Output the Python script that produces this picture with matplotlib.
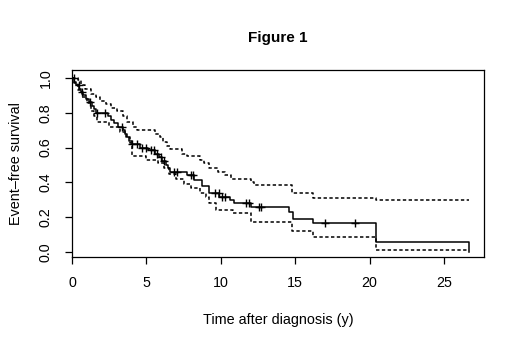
import numpy as np
import matplotlib
matplotlib.use("Agg")
import matplotlib.pyplot as plt

plt.rcParams['font.family'] = ['Liberation Sans', 'DejaVu Sans']

# Kaplan-Meier estimate: event times and survival just after each event
event_t = [0.15, 0.3, 0.5, 0.62, 0.75, 0.95, 1.15, 1.35, 1.5, 1.62,
           2.4, 2.6, 2.85, 3.1, 3.4, 3.55, 3.7, 3.85, 4.0, 4.6,
           5.1, 5.6, 5.85, 6.05, 6.3, 6.45, 6.6, 7.7, 8.2, 8.75,
           9.2, 9.9, 10.6, 10.9, 12.0, 14.56, 14.86, 16.2, 20.4, 26.7]
event_s = [0.98, 0.96, 0.94, 0.92, 0.90, 0.88, 0.86, 0.84, 0.82, 0.80,
           0.78, 0.76, 0.74, 0.72, 0.70, 0.68, 0.66, 0.64, 0.62, 0.60,
           0.585, 0.565, 0.545, 0.525, 0.50, 0.48, 0.46, 0.44, 0.414, 0.376,
           0.337, 0.318, 0.299, 0.28, 0.26, 0.23, 0.19, 0.163, 0.057, 0.0]

# censored observations (times)
cens_t = [0.11, 0.45, 0.67, 1.23, 1.68, 2.24, 3.36, 4.05, 4.39, 4.72,
          4.95, 5.28, 5.5, 5.73, 5.95, 6.17, 6.85, 7.07, 7.97, 8.15,
          9.64, 9.86, 10.1, 10.3, 11.7, 11.9, 12.55, 12.7, 17.0, 19.0]

# 95% confidence band
upper_t = [0.4, 0.6, 0.9, 1.3, 1.6, 1.9, 2.3, 2.6, 3.0, 3.4, 3.7, 4.1, 4.4,
           5.6, 5.9, 6.1, 6.4, 6.6, 7.4, 7.7, 8.6, 8.9, 9.2, 9.8, 10.3, 10.7,
           12.0, 12.2, 14.8, 16.2, 20.4]
upper_s = [0.99, 0.96, 0.94, 0.91, 0.89, 0.87, 0.85, 0.83, 0.81, 0.78, 0.75,
           0.72, 0.70, 0.68, 0.66, 0.63, 0.61, 0.59, 0.565, 0.55, 0.53, 0.51,
           0.48, 0.46, 0.44, 0.42, 0.40, 0.385, 0.337, 0.31, 0.30]
lower_t = [0.1, 0.4, 0.7, 1.0, 1.3, 1.5, 1.7, 2.5, 3.2, 3.6, 3.9, 4.0, 5.0,
           5.8, 6.2, 6.5, 7.0, 7.5, 8.0, 8.6, 9.0, 9.2, 9.7, 10.8, 12.0,
           14.8, 16.2, 20.4]
lower_s = [0.97, 0.93, 0.89, 0.855, 0.81, 0.78, 0.75, 0.72, 0.69, 0.66, 0.625,
           0.55, 0.53, 0.51, 0.48, 0.45, 0.42, 0.39, 0.37, 0.34, 0.318, 0.28,
           0.24, 0.225, 0.174, 0.12, 0.085, 0.013]
t_end = 26.7


def steps(t, s, end):
    x = np.concatenate([[0], t, [end]])
    y = np.concatenate([[1.0], s, [s[-1]]])
    return x, y


fig = plt.figure(figsize=(5.2, 3.47), dpi=100)
ax = fig.add_axes([0.1385, 0.2594, 0.7925, 0.5386])

x, y = steps(event_t, event_s, t_end)
ax.step(x, y, where='post', color='black', lw=1.1)

dash = (0, (2.2, 1.6))
x, y = steps(upper_t, upper_s, t_end)
ax.step(x, y, where='post', color='black', lw=1.1, linestyle=dash)
x, y = steps(lower_t, lower_s, t_end)
ax.step(x, y, where='post', color='black', lw=1.1, linestyle=dash)

# survival at censor times from the step function
idx = np.searchsorted(event_t, cens_t, side='right') - 1
cens_s = np.where(idx >= 0, np.array(event_s)[np.clip(idx, 0, None)], 1.0)
ax.plot(cens_t, cens_s, '+', color='black', ms=6, mew=1.0)

ax.set_xlim(0, 27.7)
ax.set_ylim(-0.03, 1.046)
ax.set_xticks([0, 5, 10, 15, 20, 25])
ax.set_yticks([0.0, 0.2, 0.4, 0.6, 0.8, 1.0])
ax.set_yticklabels(['0.0', '0.2', '0.4', '0.6', '0.8', '1.0'],
                   rotation=90, va='center')
ax.tick_params(direction='out', length=5, width=0.9, labelsize=10.3, pad=9)
for sp in ax.spines.values():
    sp.set_linewidth(0.9)

fig.text(0.535, 0.89, 'Figure 1', ha='center', va='center',
         fontsize=11, fontweight='bold')
fig.text(0.535, 0.078, 'Time after diagnosis (y)', ha='center', va='center',
         fontsize=10.4)
fig.text(0.031, 0.53, 'Event\u2013free survival', ha='center', va='center',
         fontsize=10.4, rotation=90)

fig.savefig('out.png', dpi=100)
